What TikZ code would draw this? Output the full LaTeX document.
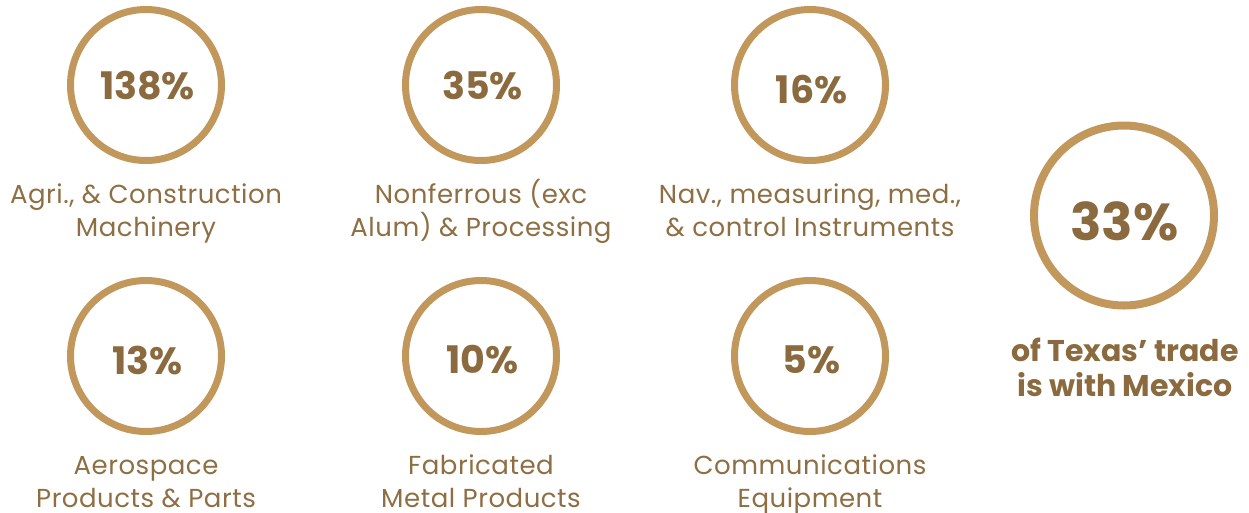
\documentclass[tikz,border=0pt]{standalone}
\usepackage{fontspec}
\setmainfont{Poppins}
\definecolor{ringgold}{HTML}{C1975B}
\definecolor{numbrown}{HTML}{8A6A3E}
\definecolor{lblbrown}{HTML}{8E6E43}
\newcommand\LblStrut{\rule{0pt}{30pt}}

\begin{document}
\begin{tikzpicture}[x=1pt,y=-1pt,
		ring/.style={circle,draw=ringgold,line width=7pt,minimum size=151pt,inner sep=0pt},
		bigring/.style={ring,line width=8pt,minimum size=180pt},
		pct/.style={text=numbrown,xshift=1.5pt,font=\bfseries\fontsize{38}{38}\selectfont},
		bigpct/.style={pct,xshift=-1pt,font=\bfseries\fontsize{52}{52}\selectfont},
		lbl/.style={text=lblbrown,align=center,anchor=north,inner sep=0pt,
			font=\fontsize{26}{33.4}\selectfont\addfontfeature{LetterSpace=2}},
		note/.style={lbl,text=numbrown,
			font=\bfseries\fontsize{30}{35.7}\selectfont}]
	
	% the page, margins included
	\useasboundingbox (0,0) rectangle (1249,512);
	
	% we draw the six small rings, their numbers and their labels
	\foreach \name/\cx/\cy/\dy/\num/\txt in {
		a/146/85/1/138/{Agri., \& Construction\\Machinery},
		b/481/85/1/35/{Nonferrous (exc\\Alum) \& Processing},
		c/810/85/5/16/{Nav., measuring, med.,\\\& control Instruments},
		d/146/356/5/13/{Aerospace\\Products \& Parts},
		e/481/356/4/10/{Fabricated\\Metal Products},
		f/810/356/4/5/{Communications\\Equipment}}
	{
		\node[ring] (ring\name) at (\cx,\cy) {};
		\node[pct,yshift=-\dy pt] (num\name) at (ring\name) {\num\%};
		\node[lbl] (lbl\name) at (\cx,\cy+88) {\LblStrut\txt};
	}
	
	% we draw the big ring on the right
	\node[bigring] (ringbig) at (1124,215.5) {};
	\node[bigpct,yshift=-6pt] (numbig) at (ringbig) {33\%};
	\node[note] (notebig) at (1125,331) {\LblStrut of Texas' trade\\is with Mexico};
	
\end{tikzpicture}
\end{document}
